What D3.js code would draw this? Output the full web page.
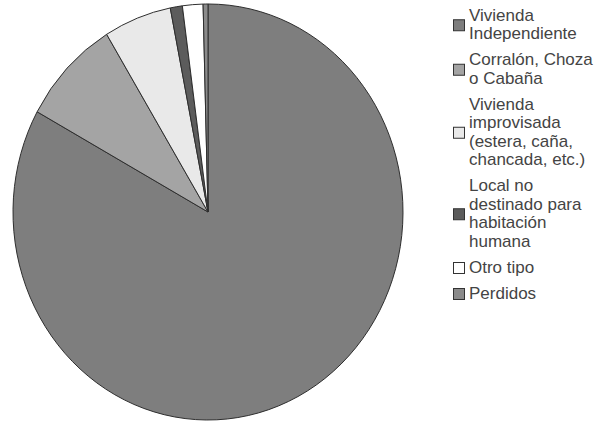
<!DOCTYPE html>
<html>
<head>
<meta charset="utf-8">
<script src="https://cdn.jsdelivr.net/npm/d3@7"></script>
<style>
	body { margin: 0; background: #fff; }
	text { font-family: "Liberation Sans", Arial, sans-serif; }
</style>
</head>
<body>
<script>
// categories (legend lines) and shares in %
var categories = [
	["Vivienda", "Independiente"],
	["Corralón, Choza", "o Cabaña"],
	["Vivienda", "improvisada", "(estera, caña,", "chancada, etc.)"],
	["Local no", "destinado para", "habitación", "humana"],
	["Otro tipo"],
	["Perdidos"]
];
var values = [83.0, 8.3, 5.6, 1.0, 1.7, 0.4];
var colors = ["#7e7e7e", "#a4a4a4", "#e9e9e9", "#5c5c5c", "#ffffff", "#8b8b8b"];

var width = 606, height = 423;

var svg = d3.select("body")
	.append("svg")
	.attr("width", width)
	.attr("height", height);

var data = values.map(function(v, i){ return {value: v, i: i}; });

// pie, slightly taller than wide like the scan
var r = 195;
var pie = d3.pie().sort(null).value(function(d){ return d.value; });
var arc = d3.arc().innerRadius(0).outerRadius(r);

var g = svg.append("g")
	.attr("transform", "translate(208,212) scale(1," + (208 / r) + ")");

g.selectAll("path")
	.data(pie(data))
	.enter()
	.append("path")
	.attr("d", arc)
	.attr("fill", function(d){ return colors[d.data.i]; })
	.attr("stroke", "#2e2e2e")
	.attr("stroke-width", 1)
	.attr("vector-effect", "non-scaling-stroke");

// legend
var lineH = 18.5, itemGap = 7.5;
var y = 15;
var legend = svg.append("g").attr("class", "legend");

categories.forEach(function(lines, i){
	var top = y;
	var item = legend.append("g");
	lines.forEach(function(t, k){
		item.append("text")
			.attr("x", 469)
			.attr("y", top + k * lineH)
			.attr("dy", "0.35em")
			.attr("font-size", 17)
			.attr("fill", "#444")
			.text(t);
	});
	var mid = top + (lines.length - 1) * lineH / 2 + 1;
	item.append("rect")
		.attr("x", 453.5)
		.attr("y", mid - 5.5)
		.attr("width", 11)
		.attr("height", 11)
		.attr("fill", colors[i])
		.attr("stroke", "#333")
		.attr("stroke-width", 1);
	y = top + lines.length * lineH + itemGap;
});
</script>
</body>
</html>
